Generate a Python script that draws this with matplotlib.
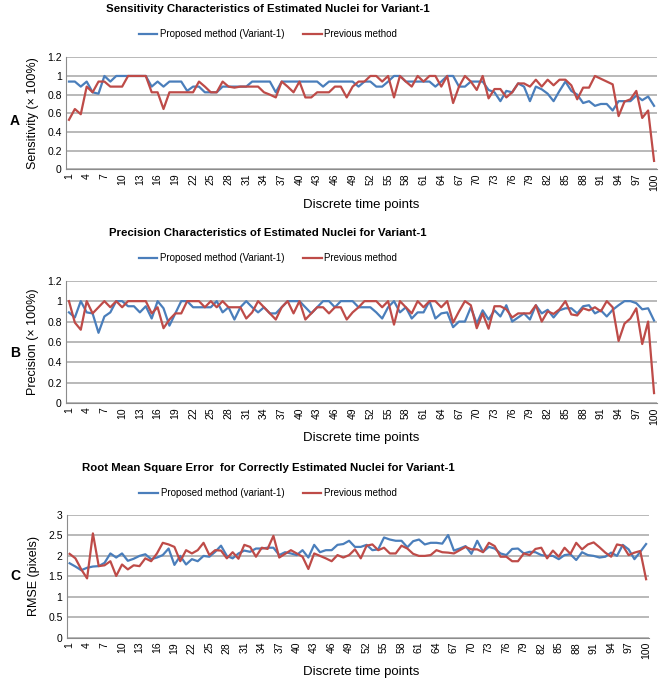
import matplotlib
matplotlib.use("Agg")
import matplotlib.pyplot as plt
import numpy as np

time_points = list(range(1, 101))
x_tick_labels = [str(t) for t in range(1, 101, 3)]

sens_proposed = [0.94, 0.94, 0.886, 0.94, 0.825, 0.81, 1.0, 0.94, 1.0, 1.0,
                 1.0, 1.0, 1.0, 1.0, 0.886, 0.94, 0.886, 0.94, 0.94, 0.94,
                 0.84, 0.886, 0.886, 0.825, 0.825, 0.825, 0.886, 0.886, 0.886, 0.886,
                 0.886, 0.94, 0.94, 0.94, 0.94, 0.825, 0.94, 0.94, 0.94, 0.94,
                 0.94, 0.94, 0.94, 0.886, 0.94, 0.94, 0.94, 0.94, 0.94, 0.886,
                 0.94, 0.94, 0.886, 0.886, 0.94, 1.0, 1.0, 0.94, 0.94, 0.94,
                 0.94, 0.94, 0.886, 0.94, 1.0, 1.0, 0.886, 0.886, 0.94, 0.94,
                 0.94, 0.85, 0.825, 0.73, 0.84, 0.825, 0.92, 0.886, 0.73, 0.886,
                 0.857, 0.81, 0.73, 0.84, 0.94, 0.84, 0.80, 0.71, 0.73, 0.68,
                 0.70, 0.70, 0.63, 0.73, 0.73, 0.73, 0.79, 0.74, 0.78, 0.68]
sens_previous = [0.53, 0.646, 0.59, 0.886, 0.825, 0.94, 0.94, 0.886, 0.886, 0.886,
                 1.0, 1.0, 1.0, 1.0, 0.825, 0.825, 0.646, 0.825, 0.825, 0.825,
                 0.825, 0.825, 0.94, 0.886, 0.825, 0.825, 0.94, 0.886, 0.875, 0.886,
                 0.886, 0.886, 0.886, 0.825, 0.80, 0.77, 0.94, 0.886, 0.825, 0.94,
                 0.77, 0.77, 0.825, 0.825, 0.825, 0.886, 0.886, 0.77, 0.886, 0.94,
                 0.94, 1.0, 1.0, 0.94, 1.0, 0.77, 1.0, 0.94, 0.886, 1.0,
                 0.94, 1.0, 1.0, 0.886, 1.0, 0.71, 0.886, 1.0, 0.94, 0.85,
                 1.0, 0.76, 0.86, 0.86, 0.77, 0.825, 0.92, 0.92, 0.886, 0.96,
                 0.886, 0.96, 0.90, 0.96, 0.96, 0.90, 0.75, 0.875, 0.875, 1.0,
                 0.97, 0.94, 0.91, 0.57, 0.725, 0.75, 0.84, 0.55, 0.63, 0.09]

prec_proposed = [0.89, 0.84, 1.0, 0.89, 0.88, 0.69, 0.85, 0.89, 1.0, 1.0,
                 0.95, 0.95, 0.89, 0.95, 0.83, 1.0, 0.93, 0.76, 0.88, 1.0,
                 1.0, 0.94, 0.94, 0.94, 0.94, 1.0, 0.89, 0.94, 0.82, 0.94,
                 1.0, 0.94, 0.89, 0.94, 0.88, 0.88, 0.94, 1.0, 1.0, 1.0,
                 0.94, 0.88, 0.94, 1.0, 1.0, 0.94, 1.0, 1.0, 1.0, 0.94,
                 0.94, 0.94, 0.89, 0.83, 0.94, 1.0, 0.89, 0.94, 0.83, 0.89,
                 0.89, 1.0, 0.83, 0.88, 0.89, 0.745, 0.80, 0.80, 0.94, 0.78,
                 0.91, 0.82, 0.91, 0.85, 0.96, 0.80, 0.84, 0.88, 0.82, 0.96,
                 0.88, 0.915, 0.84, 0.91, 0.93, 0.93, 0.88, 0.95, 0.96, 0.88,
                 0.91, 0.85, 0.915, 0.96, 1.0, 1.0, 0.98, 0.92, 0.93, 0.81]
prec_previous = [1.0, 0.79, 0.72, 1.0, 0.88, 0.94, 1.0, 0.94, 1.0, 0.94,
                 1.0, 1.0, 1.0, 1.0, 0.88, 0.94, 0.735, 0.82, 0.88, 0.88,
                 1.0, 1.0, 1.0, 0.94, 1.0, 0.94, 1.0, 0.94, 0.94, 0.94,
                 0.83, 0.89, 1.0, 0.94, 0.88, 0.82, 0.94, 1.0, 0.88, 1.0,
                 0.82, 0.88, 0.94, 0.94, 0.88, 0.94, 0.94, 0.82, 0.89, 0.94,
                 1.0, 1.0, 1.0, 0.94, 1.0, 0.77, 1.0, 0.94, 0.88, 1.0,
                 0.94, 1.0, 1.0, 0.94, 1.0, 0.79, 0.90, 1.0, 0.96, 0.735,
                 0.88, 0.73, 0.95, 0.95, 0.92, 0.84, 0.88, 0.88, 0.88, 0.96,
                 0.80, 0.90, 0.875, 0.92, 1.0, 0.87, 0.86, 0.93, 0.91, 0.94,
                 0.90, 1.0, 0.94, 0.61, 0.78, 0.83, 0.93, 0.58, 0.80, 0.10]

rmse_proposed = [1.82, 1.74, 1.65, 1.71, 1.74, 1.75, 1.83, 2.06, 1.96, 2.06,
                 1.88, 1.93, 2.0, 2.04, 1.92, 1.96, 2.02, 2.18, 1.78, 2.0,
                 1.79, 1.92, 1.87, 2.0, 1.98, 2.10, 2.25, 2.0, 1.94, 2.06,
                 2.13, 2.10, 2.18, 2.18, 2.2, 2.2, 2.02, 2.09, 2.06, 2.02,
                 2.14, 1.96, 2.27, 2.09, 2.14, 2.14, 2.27, 2.29, 2.37, 2.22,
                 2.22, 2.27, 2.14, 2.16, 2.45, 2.40, 2.37, 2.37, 2.21, 2.36,
                 2.40, 2.28, 2.32, 2.32, 2.30, 2.51, 2.13, 2.18, 2.24, 2.05,
                 2.37, 2.10, 2.22, 2.18, 2.06, 2.02, 2.17, 2.18, 2.06, 2.10,
                 2.09, 2.02, 2.0, 2.0, 1.92, 2.02, 2.04, 1.90, 2.09, 2.02,
                 2.0, 1.96, 1.98, 2.08, 2.0, 2.27, 2.16, 1.92, 2.10, 2.29]
rmse_previous = [2.05, 1.94, 1.67, 1.45, 2.55, 1.75, 1.77, 1.87, 1.51, 1.79,
                 1.67, 1.77, 1.75, 1.94, 1.87, 2.06, 2.32, 2.28, 2.22, 1.87,
                 2.14, 2.06, 2.14, 2.32, 2.02, 2.14, 2.13, 1.94, 2.09, 1.93,
                 2.27, 2.22, 1.98, 2.2, 2.17, 2.49, 1.96, 2.05, 2.14, 2.06,
                 1.98, 1.68, 2.06, 2.0, 1.94, 1.87, 2.02, 1.96, 2.02, 2.16,
                 1.94, 2.25, 2.28, 2.14, 2.2, 2.06, 2.06, 2.25, 2.18, 2.05,
                 2.0, 2.0, 2.02, 2.14, 2.09, 2.08, 2.06, 2.14, 2.22, 2.16,
                 2.16, 2.09, 2.32, 2.24, 1.98, 1.98, 1.87, 1.87, 2.06, 2.02,
                 2.17, 2.2, 1.94, 2.13, 1.98, 2.2, 2.05, 2.32, 2.16, 2.28,
                 2.33, 2.21, 2.08, 1.98, 2.28, 2.25, 2.02, 2.08, 2.12, 1.43]

BLUE = "#4a7ebb"
RED = "#be4b48"
GRID = "#a6a6a6"
SANS = ["Liberation Sans", "DejaVu Sans"]

W, H = 660, 685
fig = plt.figure(figsize=(W / 100, H / 100), dpi=100)

panels = [
    dict(letter="A", title="Sensitivity Characteristics of Estimated Nuclei for Variant-1",
         ylabel="Sensitivity (× 100%)", prop=sens_proposed, prev=sens_previous,
         plab="Proposed method (Variant-1)", ylim=(0, 1.2), yt=[0, 0.2, 0.4, 0.6, 0.8, 1, 1.2],
         ytl=["0", "0.2", "0.4", "0.6", "0.8", "1", "1.2"],
         box=(66, 57.3, 657, 169.3), title_y=9, leg_y=34, xl_y=205, letter_y=121),
    dict(letter="B", title="Precision Characteristics of Estimated Nuclei for Variant-1",
         ylabel="Precision (× 100%)", prop=prec_proposed, prev=prec_previous,
         plab="Proposed method (Variant-1)", ylim=(0, 1.2), yt=[0, 0.2, 0.4, 0.6, 0.8, 1, 1.2],
         ytl=["0", "0.2", "0.4", "0.6", "0.8", "1", "1.2"],
         box=(66, 280.7, 657, 403.3), title_y=233, leg_y=258, xl_y=438, letter_y=353),
    dict(letter="C", title="Root Mean Square Error  for Correctly Estimated Nuclei for Variant-1",
         ylabel="RMSE (pixels)", prop=rmse_proposed, prev=rmse_previous,
         plab="Proposed method (variant-1)", ylim=(0, 3), yt=[0, 0.5, 1, 1.5, 2, 2.5, 3],
         ytl=["0", "0.5", "1", "1.5", "2", "2.5", "3"],
         box=(66.7, 515, 649, 637.7), title_y=468, leg_y=493, xl_y=672, letter_y=576),
]

for p in panels:
    x0, y0, x1, y1 = p["box"]
    ax = fig.add_axes([x0 / W, 1 - y1 / H, (x1 - x0) / W, (y1 - y0) / H])
    ax.plot(time_points, p["prop"], color=BLUE, lw=1.6, label=p["plab"], zorder=3)
    ax.plot(time_points, p["prev"], color=RED, lw=1.6, label="Previous method", zorder=4)
    ax.set_xlim(0.5, 100.5)
    ax.set_ylim(*p["ylim"])
    ax.set_yticks(p["yt"])
    ax.set_yticklabels(p["ytl"], fontsize=7.5, family=SANS)
    ax.set_xticks(list(range(1, 101, 3)))
    ax.set_xticklabels(x_tick_labels, rotation=90, fontsize=7.5, family=SANS)
    ax.tick_params(axis="both", length=0, pad=3)
    ax.grid(axis="y", color=GRID, lw=1.1)
    ax.set_axisbelow(True)
    for s in ["top", "right"]:
        ax.spines[s].set_visible(False)
    ax.spines["left"].set_color("#8c8c8c")
    ax.spines["bottom"].set_color("#8c8c8c")
    ax.set_ylabel(p["ylabel"], fontsize=9, family=SANS, labelpad=6)
    fig.text(361 / W, 1 - p["xl_y"] / H, "Discrete time points", ha="center", va="center",
             fontsize=9.5, family=SANS)
    fig.text(268 / W, 1 - p["title_y"] / H, p["title"], ha="center", va="center",
             fontsize=8.2, fontweight="bold", family=SANS)
    fig.text(10 / W, 1 - p["letter_y"] / H, p["letter"], ha="left", va="center",
             fontsize=10, fontweight="bold", family=SANS)
    fig.legend(handles=ax.get_lines(), loc="center", bbox_to_anchor=(268 / W, 1 - p["leg_y"] / H),
               ncol=2, frameon=False, prop={"family": SANS, "size": 7},
               handlelength=1.9, handletextpad=0.3, columnspacing=1.9, borderaxespad=0)

fig.savefig("out.png", dpi=100)
